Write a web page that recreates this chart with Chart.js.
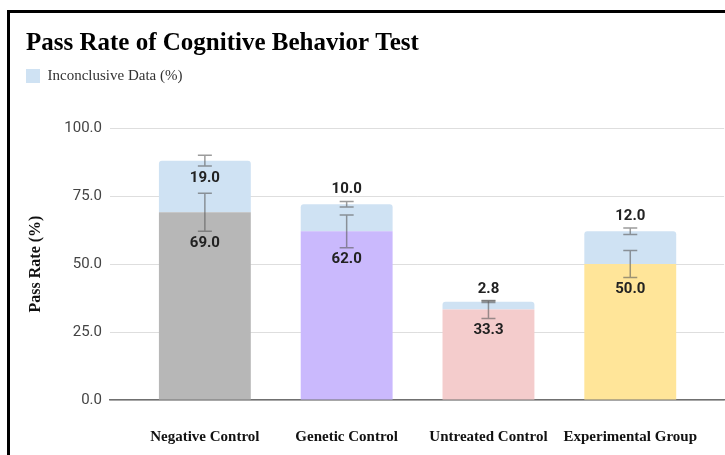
<!DOCTYPE html>
<html>
<head>
<meta charset="utf-8">
<script src="https://cdn.jsdelivr.net/npm/chart.js@4"></script>
<style>
  html, body { margin: 0; padding: 0; background: #fff; overflow: hidden; }
  #frame {
    position: absolute; left: 7px; top: 10px;
    width: 760px; height: 500px;
    border-left: 3px solid #000; border-top: 3px solid #000;
  }
  #wrap { position: absolute; left: 0; top: 0; width: 715px; height: 470px; }
</style>
</head>
<body>
<div id="frame"><div id="wrap"><canvas id="chart"></canvas></div></div>
<script>
'use strict';

const groups = ['Negative Control', 'Genetic Control', 'Untreated Control', 'Experimental Group'];
const passRate = [69.0, 62.0, 33.3, 50.0];
const inconclusive = [19.0, 10.0, 2.8, 12.0];
const passErr = [7, 6, 3.3, 5];
const inconclusiveErr = [2, 1, 0.3, 1.2];
const yTicks = [0, 25, 50, 75, 100];

const barColors = ['#b7b7b7', '#cab9fd', '#f4cccc', '#ffe599'];
const inconclusiveColor = '#cfe2f3';

const serif = '"Liberation Serif", "Times New Roman", serif';
const sans = 'Roboto, Arial, sans-serif';

// error bars + value labels
const errorBarPlugin = {
  id: 'errorBars',
  afterDatasetsDraw(chart) {
    const ctx = chart.ctx;
    const x = chart.scales.x;
    const y = chart.scales.y;
    ctx.save();
    for (let i = 0; i < groups.length; i++) {
      const cx = x.getPixelForValue(i);
      const bars = [
        { mid: passRate[i], err: passErr[i], val: passRate[i], seg: passRate[i] },
        { mid: passRate[i] + inconclusive[i], err: inconclusiveErr[i], val: inconclusive[i], seg: inconclusive[i] }
      ];
      for (const b of bars) {
        const top = y.getPixelForValue(b.mid + b.err);
        const bot = y.getPixelForValue(b.mid - b.err);
        ctx.strokeStyle = 'rgba(90, 90, 90, 0.6)';
        ctx.lineWidth = 1.5;
        ctx.beginPath();
        ctx.moveTo(cx, top); ctx.lineTo(cx, bot);
        ctx.moveTo(cx - 7, top); ctx.lineTo(cx + 7, top);
        ctx.moveTo(cx - 7, bot); ctx.lineTo(cx + 7, bot);
        ctx.stroke();

        ctx.fillStyle = '#222';
        ctx.font = 'bold 15px ' + sans;
        ctx.textAlign = 'center';
        ctx.textBaseline = 'middle';
        let ly = bot + 12;
        if (b.seg < 15) ly = top - 12;
        if (b === bars[0]) ly = bot + 12;
        ctx.fillText(b.val.toFixed(1), cx, ly);
      }
    }
    ctx.restore();
  }
};

// give the legend a fixed height so the plot starts lower
const legendHeight = {
  id: 'legendHeight',
  beforeInit(chart) {
    const fit = chart.legend.fit;
    chart.legend.fit = function () {
      fit.bind(chart.legend)();
      this.height = 59.5;
    };
  }
};

const ctx = document.getElementById('chart');

let config = {
  type: 'bar',
  data: {
    datasets: [
      {
        label: 'Pass Rate (%)',
        data: passRate.map((v, i) => ({ x: i, y: v })),
        backgroundColor: barColors,
        stack: 'all',
        categoryPercentage: 0.72,
        barPercentage: 0.9
      },
      {
        label: 'Inconclusive Data (%)',
        data: inconclusive.map((v, i) => ({ x: i, y: v })),
        backgroundColor: inconclusiveColor,
        borderRadius: { topLeft: 3, topRight: 3 },
        borderSkipped: 'bottom',
        stack: 'all',
        categoryPercentage: 0.72,
        barPercentage: 0.9
      }
    ]
  },
  options: {
    responsive: true,
    maintainAspectRatio: false,
    animation: false,
    layout: { padding: { left: 16, right: 0, top: 16, bottom: 9 } },
    plugins: {
      title: {
        display: true,
        text: 'Pass Rate of Cognitive Behavior Test',
        align: 'start',
        color: '#000',
        font: { family: serif, size: 25, weight: 'bold' },
        padding: { top: 0, bottom: 9.5 }
      },
      legend: {
        align: 'start',
        labels: {
          filter: (item) => item.datasetIndex === 1,
          boxWidth: 14,
          boxHeight: 14,
          padding: 0,
          color: '#333',
          font: { family: serif, size: 15 }
        }
      },
      tooltip: { enabled: false }
    },
    scales: {
      x: {
        type: 'linear',
        offset: false,
        min: -0.669,
        max: 3.662,
        grid: { display: false, drawTicks: false },
        border: { display: true, color: '#707070', width: 1.5 },
        ticks: {
          stepSize: 1,
          includeBounds: false,
          autoSkip: false,
          maxRotation: 0,
          padding: 28,
          color: '#111',
          font: { family: serif, size: 15, weight: 'bold' },
          callback: (v) => Number.isInteger(v) ? groups[v] : ''
        }
      },
      y: {
        stacked: true,
        min: 0,
        max: 100,
        afterBuildTicks: (scale) => { scale.ticks = yTicks.map(v => ({ value: v })); },
        afterFit: (scale) => { scale.width = 84; },
        grid: { color: '#dedede', drawTicks: false },
        border: { display: false },
        ticks: {
          padding: 8,
          color: '#444',
          font: { family: sans, size: 15 },
          callback: (v) => v.toFixed(1)
        },
        title: {
          display: true,
          text: 'Pass Rate (%)',
          color: '#111',
          font: { family: serif, size: 16, weight: 'bold' },
          padding: 0
        }
      }
    }
  },
  plugins: [errorBarPlugin, legendHeight]
};

new Chart(ctx, config);
</script>
</body>
</html>
